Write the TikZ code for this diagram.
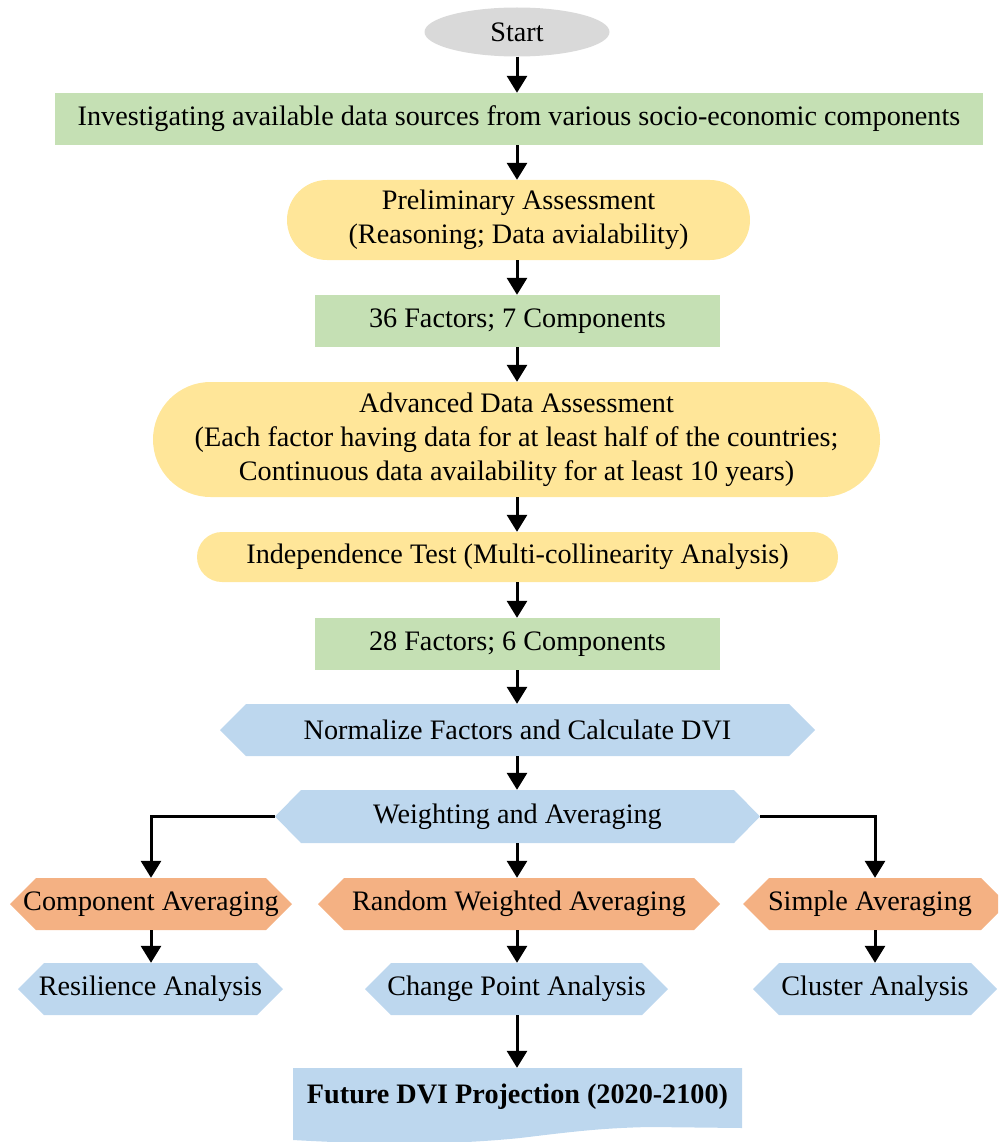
\documentclass[tikz,border=0pt]{standalone}
\usepackage{fontspec}
\setmainfont{Liberation Serif}
\usetikzlibrary{shapes.geometric,shapes.misc,arrows.meta}
\definecolor{cgreen}{HTML}{C5E0B4}
\definecolor{cyellow}{HTML}{FFE699}
\definecolor{cblue}{HTML}{BDD7EE}
\definecolor{corange}{HTML}{F4B183}
\definecolor{cgrey}{HTML}{D9D9D9}
\tikzset{
  every node/.style={font=\fontsize{28.2}{34}\selectfont, text=black, inner sep=0pt, align=center},
  rectbox/.style={rectangle, fill=cgreen, minimum height=52pt},
  pill/.style={rounded rectangle, fill=cyellow},
  hexbox/.style={rectangle, minimum height=52pt, path picture={
    \fill[#1] (path picture bounding box.west)
      -- ([xshift=26pt]path picture bounding box.north west)
      -- ([xshift=-26pt]path picture bounding box.north east)
      -- (path picture bounding box.east)
      -- ([xshift=-26pt]path picture bounding box.south east)
      -- ([xshift=26pt]path picture bounding box.south west) -- cycle;}},
  arr/.style={-{Triangle[width=20pt,length=17pt]}, line width=3pt},
}
\begin{document}
\begin{tikzpicture}[x=1pt,y=-1pt]
\useasboundingbox (0,0) rectangle (998,1142);
\clip (0,0) rectangle (998,1142);
% document shape background
\fill[cblue] (293,1068) -- (742,1068) -- (742,1128) -- (650,1127)
  .. controls (600,1128) and (570,1132) .. (520,1138)
  .. controls (450,1145) and (380,1145) .. (293,1140) -- cycle;

\node[ellipse, fill=cgrey, minimum width=185pt, minimum height=49pt] (start) at (517,32) {Start};
\node[rectbox, minimum width=928pt] (s1) at (519,119) {Investigating available data sources from various socio-economic components};
\node[pill, minimum width=463pt, minimum height=80pt] (p1) at (518.5,220) {Preliminary Assessment\\(Reasoning; Data avialability)};
\node[rectbox, minimum width=405pt] (f1) at (517.5,321) {36 Factors; 7 Components};
\node[pill, minimum width=727pt, minimum height=115pt] (a1) at (516.5,439.5) {Advanced Data Assessment\\(Each factor having data for at least half of the countries;\\Continuous data availability for at least 10 years)};
\node[pill, minimum width=641pt, minimum height=50pt] (i1) at (517.5,557) {Independence Test (Multi-collinearity Analysis)};
\node[rectbox, minimum width=405pt] (f2) at (517.5,644) {28 Factors; 6 Components};
\node[hexbox=cblue, minimum width=595pt] (n1) at (517.5,730) {Normalize Factors and Calculate DVI};
\node[hexbox=cblue, minimum width=485pt, minimum height=53pt] (w1) at (517.5,816.5) {Weighting and Averaging};
\node[hexbox=corange, minimum width=282pt] (o1) at (151,904) {Component Averaging};
\node[hexbox=corange, minimum width=402pt] (o2) at (519,904) {Random Weighted Averaging};
\node[hexbox=corange, minimum width=264pt] (o3) at (875,904) {\hspace*{-10pt}Simple Averaging};
\node[hexbox=cblue, minimum width=265pt] (b1) at (150.5,989) {Resilience Analysis};
\node[hexbox=cblue, minimum width=303pt] (b2) at (516.5,989) {Change Point Analysis};
\node[hexbox=cblue, minimum width=244pt] (b3) at (875,989) {Cluster Analysis};
\node[minimum width=449pt, minimum height=58pt, font=\fontsize{28.2}{34}\selectfont\bfseries] (doc) at (517.5,1097) {Future DVI Projection (2020-2100)};

\draw[arr] (start.south) -- (start.south |- s1.north);
\draw[arr] (start.south |- s1.south) -- (start.south |- p1.north);
\draw[arr] (start.south |- p1.south) -- (start.south |- f1.north);
\draw[arr] (start.south |- f1.south) -- (start.south |- a1.north);
\draw[arr] (start.south |- a1.south) -- (start.south |- i1.north);
\draw[arr] (start.south |- i1.south) -- (start.south |- f2.north);
\draw[arr] (start.south |- f2.south) -- (start.south |- n1.north);
\draw[arr] (start.south |- n1.south) -- (start.south |- w1.north);
\draw[arr] (start.south |- w1.south) -- (start.south |- o2.north);
\draw[arr] (w1.west) -| (o1.north);
\draw[arr] (w1.east) -| (o3.north);
\draw[arr] (o1.south) -- (o1.south |- b1.north);
\draw[arr] (start.south |- o2.south) -- (start.south |- b2.north);
\draw[arr] (o3.south) -- (o3.south |- b3.north);
\draw[arr] (start.south |- b2.south) -- (start.south |- doc.north);
\end{tikzpicture}
\end{document}
